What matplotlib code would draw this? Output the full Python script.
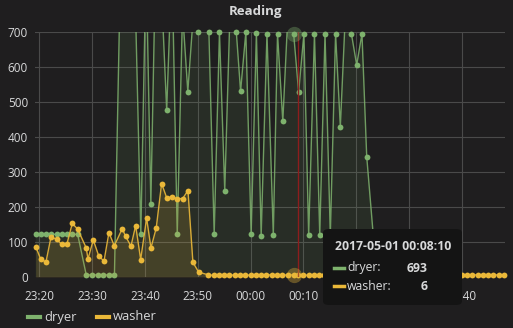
import matplotlib
matplotlib.use("Agg")
import matplotlib.pyplot as plt
from matplotlib.patches import FancyBboxPatch
from matplotlib.lines import Line2D

plt.rcParams['font.family'] = ['Open Sans', 'DejaVu Sans']

# minutes after 23:20 on 2017-04-30
dryer_t = [-0.72, 0.23, 1.23, 2.18, 3.26, 4.2, 5.21, 6.21, 7.23,
           8.86, 9.9, 11.0, 12.1, 13.2, 14.2,
           15.7, 16.5, 17.3, 18.2,
           19.2, 20.2, 21.1, 22.1, 23.1, 24.1, 25.1, 26.1, 27.1, 28.1,
           29.1, 30.1, 31.1, 32.1, 33.1, 34.1, 35.1, 36.1, 37.3, 38.1,
           39.1, 40.1, 41.1, 42.0, 43.1, 44.3, 45.1, 46.1, 47.1, 48.17,
           49.1, 50.1, 51.0, 52.1, 53.1, 54.1, 55.1, 56.1, 57.0, 58.1,
           59.1, 60.1, 61.1, 62.0, 63.9]
dryer_v = [122, 122, 122, 122, 122, 122, 122, 122, 122,
           6, 6, 6, 6, 6, 6,
           1150, 880, 960, 760,
           123, 900, 210, 980, 820, 477, 900, 122, 760, 530,
           740, 700, 880, 700, 122, 700, 247, 760, 699, 531,
           700, 122, 698, 118, 695, 120, 695, 445, 760, 693,
           528, 695, 120, 695, 120, 695, 120, 695, 430, 800,
           695, 606, 695, 344, 0]

washer_t = [-0.72, 0.23, 1.23, 2.18, 3.26, 4.2, 5.21, 6.21, 7.23, 8.86,
            9.19, 10.19, 11.21, 12.22, 13.16, 14.17, 15.68, 16.33, 17.33, 18.22,
            19.17, 20.3, 21.12, 22.12, 23.14, 24.09, 25.15, 26.1, 27.12, 28.13,
            29.07, 30.15, 32.0, 33.0, 34.0, 35.0, 36.0, 37.0, 38.0, 39.0,
            40.0, 41.0, 42.0, 43.0, 44.0, 45.0, 46.0, 47.0, 48.17, 49.0,
            50.0, 51.0, 52.0, 53.0, 54.0, 55.0, 56.0, 57.0, 58.0, 59.0,
            60.0, 61.0, 62.0, 63.0, 64.0, 65.0, 66.0, 67.0, 68.0, 69.0,
            70.0, 71.0, 72.0, 73.0, 74.0, 75.0, 76.0, 77.0, 78.0, 79.0,
            80.0, 81.0, 82.0, 83.0, 84.0, 85.0, 86.0, 87.0, 88.0]
washer_v = [87, 51, 43, 114, 108, 93, 95, 153, 137, 83,
            51, 106, 61, 45, 127, 89, 138, 116, 88, 147,
            50, 168, 83, 140, 267, 227, 228, 224, 224, 247,
            42, 14, 6, 5, 6, 6, 5, 6, 6, 6,
            5, 6, 7, 6, 6, 6, 5, 6, 6, 6,
            6, 5, 6, 6, 6, 6, 5, 6, 6, 6,
            6, 6, 5, 6, 6, 6, 6, 5, 6, 6,
            6, 6, 6, 5, 6, 6, 6, 6, 5, 6,
            6, 6, 6, 6, 5, 6, 6, 6, 6]

tick_pos = [0, 10, 20, 30, 40, 50, 60, 70, 80]
tick_labels = ['23:20', '23:30', '23:40', '23:50', '00:00', '00:10', '00:20', '00:30', '00:40']

bg = '#1f1e1f'
green = '#7eb26d'
yellow = '#eab839'
txt = '#d8d9da'

W, H = 513, 328
fig = plt.figure(figsize=(W / 100, H / 100), dpi=100, facecolor=bg)
ax = fig.add_axes([35 / W, 1 - 277 / H, 470 / W, 245 / H], facecolor=bg)

# dryer
ax.fill_between(dryer_t, dryer_v, 0, color=green, alpha=0.1, lw=0, zorder=2)
ax.plot(dryer_t, dryer_v, color=green, lw=1, alpha=0.85, zorder=3)
dx = [t for t, v in zip(dryer_t, dryer_v) if v <= 700]
dy = [v for v in dryer_v if v <= 700]
ax.plot(dx, dy, 'o', color=green, ms=4.2, mec='none', clip_on=False, zorder=4)

# washer
ax.fill_between(washer_t, washer_v, 0, color=yellow, alpha=0.15, lw=0, zorder=5)
ax.plot(washer_t, washer_v, color=yellow, lw=1, alpha=0.9, zorder=6)
ax.plot(washer_t, washer_v, 'o', color=yellow, ms=4.2, mec='none', clip_on=False, zorder=7)

# hover
ax.axvline(49.0, color='#8c1d1d', lw=1, zorder=8)
ax.plot([48.17], [693], 'o', color=green, ms=11, alpha=0.35, mec='none', clip_on=False, zorder=9)
ax.plot([48.17], [6], 'o', color=yellow, ms=11, alpha=0.35, mec='none', clip_on=False, zorder=9)

ax.set_xlim(-0.85, 88.2)
ax.set_ylim(0, 700)
ax.set_yticks(range(0, 701, 100))
ax.set_xticks(tick_pos)
ax.set_xticklabels(tick_labels)
ax.grid(True, color='#4a4a4a', lw=0.8, zorder=0)
ax.set_axisbelow(True)
for s in ax.spines.values():
    s.set_visible(False)
ax.tick_params(length=0, colors=txt, labelsize=8.5)
ax.tick_params(axis='x', pad=9)
ax.tick_params(axis='y', pad=5)
for lab in ax.get_xticklabels() + ax.get_yticklabels():
    lab.set_color(txt)

fig.text(256 / W, 1 - 12 / H, 'Reading', ha='center', va='center', color=txt,
         fontsize=9.5, fontweight='bold')

# legend
fig.add_artist(Line2D([28 / W, 40 / W], [1 - 317 / H] * 2, color=green, lw=3))
fig.text(44 / W, 1 - 317 / H, 'dryer', color=txt, fontsize=9.3, va='center')
fig.add_artist(Line2D([97 / W, 109 / W], [1 - 317 / H] * 2, color=yellow, lw=3))
fig.text(113 / W, 1 - 317 / H, 'washer', color=txt, fontsize=9.3, va='center')

# tooltip
box = FancyBboxPatch((323 / W, 1 - 305 / H), 139 / W, 76 / H,
                     boxstyle='round,pad=0,rounding_size=0.012',
                     transform=fig.transFigure, facecolor='#141414',
                     edgecolor='none', zorder=20)
fig.add_artist(box)
fig.text(335 / W, 1 - 246 / H, '2017-05-01 00:08:10', color=txt, fontsize=8.8,
         fontweight='bold', va='center', zorder=21)
fig.add_artist(Line2D([334 / W, 344 / W], [1 - 268 / H] * 2, color=green, lw=2.5, zorder=21))
fig.text(347 / W, 1 - 268 / H, 'dryer:', color=txt, fontsize=8.8, va='center', zorder=21)
fig.text(428 / W, 1 - 268 / H, '693', color=txt, fontsize=8.8, fontweight='bold',
         ha='right', va='center', zorder=21)
fig.add_artist(Line2D([334 / W, 344 / W], [1 - 286 / H] * 2, color=yellow, lw=2.5, zorder=21))
fig.text(347 / W, 1 - 286 / H, 'washer:', color=txt, fontsize=8.8, va='center', zorder=21)
fig.text(428 / W, 1 - 286 / H, '6', color=txt, fontsize=8.8, fontweight='bold',
         ha='right', va='center', zorder=21)

fig.savefig('out.png', dpi=100, facecolor=bg)
